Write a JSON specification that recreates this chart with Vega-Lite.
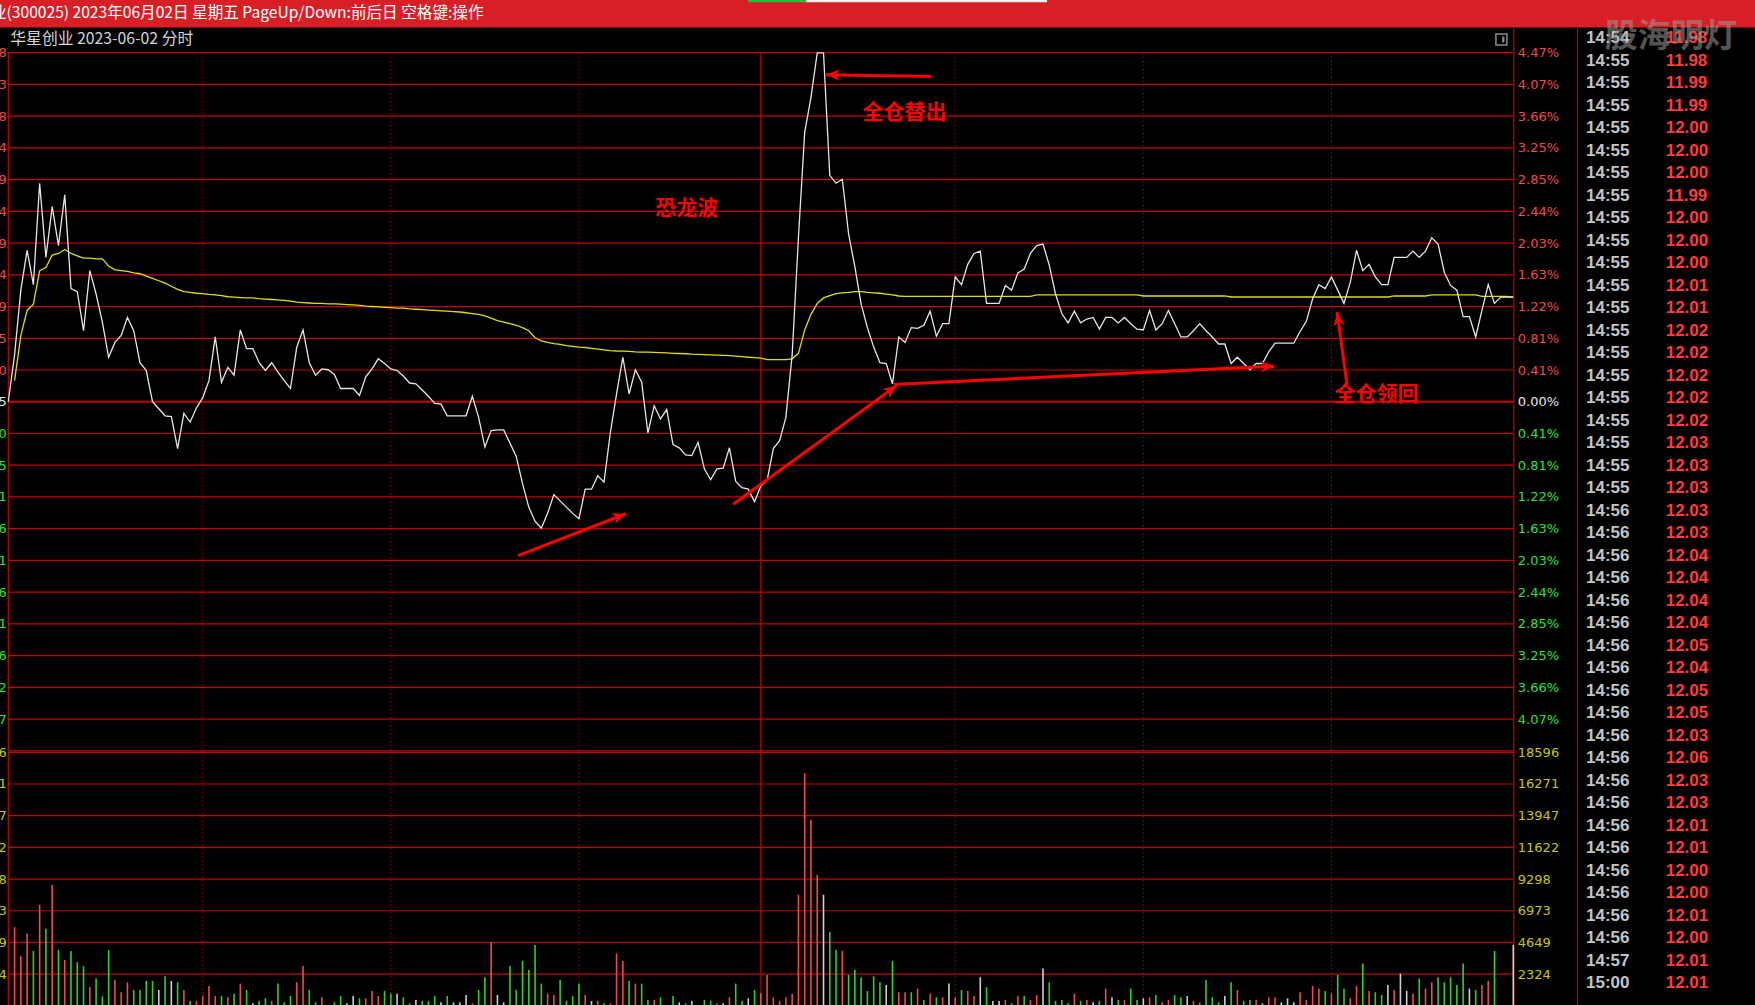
{
  "$schema": "https://vega.github.io/schema/vega-lite/v6.json",
  "width": 1755,
  "height": 1005,
  "autosize": {"type": "none"},
  "padding": 0,
  "background": "#000000",
  "config": {
    "view": {"stroke": null},
    "axis": {"grid": false, "ticks": false, "domain": false, "labelOverlap": false, "labelFont": "DejaVu Sans", "labelFontSize": 13}
  },
  "datasets": {
    "minutes": [
      {"k":0,"pct":0,"avg":null,"vol":0,"dir":"flat"},
      {"k":1,"pct":0.60,"avg":0.27,"vol":5767,"dir":"up"},
      {"k":2,"pct":1.43,"avg":0.85,"vol":3660,"dir":"up"},
      {"k":3,"pct":1.94,"avg":1.17,"vol":5301,"dir":"up"},
      {"k":4,"pct":1.50,"avg":1.25,"vol":4028,"dir":"down"},
      {"k":5,"pct":2.80,"avg":1.68,"vol":7409,"dir":"up"},
      {"k":6,"pct":1.85,"avg":1.72,"vol":5645,"dir":"down"},
      {"k":7,"pct":2.50,"avg":1.88,"vol":8879,"dir":"up"},
      {"k":8,"pct":2.00,"avg":1.90,"vol":4101,"dir":"down"},
      {"k":9,"pct":2.65,"avg":1.95,"vol":3366,"dir":"up"},
      {"k":10,"pct":1.45,"avg":1.90,"vol":4028,"dir":"down"},
      {"k":11,"pct":1.41,"avg":1.87,"vol":3194,"dir":"down"},
      {"k":12,"pct":0.91,"avg":1.84,"vol":2900,"dir":"down"},
      {"k":13,"pct":1.68,"avg":1.84,"vol":1357,"dir":"up"},
      {"k":14,"pct":1.38,"avg":1.83,"vol":1994,"dir":"down"},
      {"k":15,"pct":1.02,"avg":1.83,"vol":695,"dir":"down"},
      {"k":16,"pct":0.57,"avg":1.74,"vol":4101,"dir":"down"},
      {"k":17,"pct":0.76,"avg":1.69,"vol":1896,"dir":"up"},
      {"k":18,"pct":0.85,"avg":1.68,"vol":990,"dir":"up"},
      {"k":19,"pct":1.08,"avg":1.67,"vol":1725,"dir":"up"},
      {"k":20,"pct":0.91,"avg":1.65,"vol":1161,"dir":"down"},
      {"k":21,"pct":0.50,"avg":1.64,"vol":1161,"dir":"down"},
      {"k":22,"pct":0.40,"avg":1.61,"vol":1823,"dir":"down"},
      {"k":23,"pct":0.00,"avg":1.58,"vol":1823,"dir":"down"},
      {"k":24,"pct":-0.09,"avg":1.55,"vol":1161,"dir":"flat"},
      {"k":25,"pct":-0.18,"avg":1.52,"vol":2166,"dir":"down"},
      {"k":26,"pct":-0.19,"avg":1.48,"vol":1823,"dir":"flat"},
      {"k":27,"pct":-0.60,"avg":1.44,"vol":1725,"dir":"down"},
      {"k":28,"pct":-0.15,"avg":1.41,"vol":1161,"dir":"up"},
      {"k":29,"pct":-0.26,"avg":1.40,"vol":353,"dir":"down"},
      {"k":30,"pct":-0.08,"avg":1.39,"vol":353,"dir":"up"},
      {"k":31,"pct":0.05,"avg":1.385,"vol":720,"dir":"up"},
      {"k":32,"pct":0.27,"avg":1.375,"vol":1455,"dir":"up"},
      {"k":33,"pct":0.83,"avg":1.37,"vol":720,"dir":"up"},
      {"k":34,"pct":0.25,"avg":1.36,"vol":720,"dir":"down"},
      {"k":35,"pct":0.44,"avg":1.345,"vol":622,"dir":"up"},
      {"k":36,"pct":0.34,"avg":1.34,"vol":892,"dir":"down"},
      {"k":37,"pct":0.92,"avg":1.335,"vol":1627,"dir":"up"},
      {"k":38,"pct":0.68,"avg":1.33,"vol":1161,"dir":"down"},
      {"k":39,"pct":0.68,"avg":1.33,"vol":181,"dir":"flat"},
      {"k":40,"pct":0.50,"avg":1.32,"vol":353,"dir":"down"},
      {"k":41,"pct":0.40,"avg":1.315,"vol":549,"dir":"down"},
      {"k":42,"pct":0.50,"avg":1.31,"vol":353,"dir":"up"},
      {"k":43,"pct":0.38,"avg":1.305,"vol":1627,"dir":"down"},
      {"k":44,"pct":0.27,"avg":1.30,"vol":255,"dir":"down"},
      {"k":45,"pct":0.17,"avg":1.29,"vol":720,"dir":"down"},
      {"k":46,"pct":0.70,"avg":1.275,"vol":1725,"dir":"up"},
      {"k":47,"pct":0.92,"avg":1.27,"vol":2925,"dir":"up"},
      {"k":48,"pct":0.50,"avg":1.265,"vol":1161,"dir":"down"},
      {"k":49,"pct":0.34,"avg":1.26,"vol":255,"dir":"down"},
      {"k":50,"pct":0.42,"avg":1.26,"vol":622,"dir":"up"},
      {"k":51,"pct":0.41,"avg":1.255,"vol":60,"dir":"flat"},
      {"k":52,"pct":0.35,"avg":1.255,"vol":255,"dir":"down"},
      {"k":53,"pct":0.17,"avg":1.25,"vol":720,"dir":"down"},
      {"k":54,"pct":0.17,"avg":1.245,"vol":181,"dir":"flat"},
      {"k":55,"pct":0.17,"avg":1.24,"vol":720,"dir":"flat"},
      {"k":56,"pct":0.08,"avg":1.235,"vol":549,"dir":"down"},
      {"k":57,"pct":0.32,"avg":1.225,"vol":549,"dir":"up"},
      {"k":58,"pct":0.42,"avg":1.22,"vol":1088,"dir":"up"},
      {"k":59,"pct":0.55,"avg":1.215,"vol":720,"dir":"up"},
      {"k":60,"pct":0.49,"avg":1.21,"vol":1088,"dir":"down"},
      {"k":61,"pct":0.42,"avg":1.205,"vol":892,"dir":"down"},
      {"k":62,"pct":0.40,"avg":1.20,"vol":892,"dir":"flat"},
      {"k":63,"pct":0.33,"avg":1.20,"vol":622,"dir":"down"},
      {"k":64,"pct":0.24,"avg":1.19,"vol":181,"dir":"down"},
      {"k":65,"pct":0.23,"avg":1.185,"vol":426,"dir":"flat"},
      {"k":66,"pct":0.15,"avg":1.18,"vol":353,"dir":"down"},
      {"k":67,"pct":0.07,"avg":1.175,"vol":353,"dir":"down"},
      {"k":68,"pct":-0.02,"avg":1.17,"vol":720,"dir":"down"},
      {"k":69,"pct":-0.03,"avg":1.165,"vol":255,"dir":"flat"},
      {"k":70,"pct":-0.18,"avg":1.16,"vol":720,"dir":"down"},
      {"k":71,"pct":-0.18,"avg":1.155,"vol":255,"dir":"flat"},
      {"k":72,"pct":-0.18,"avg":1.15,"vol":255,"dir":"flat"},
      {"k":73,"pct":-0.18,"avg":1.14,"vol":794,"dir":"flat"},
      {"k":74,"pct":0.07,"avg":1.13,"vol":181,"dir":"up"},
      {"k":75,"pct":-0.20,"avg":1.12,"vol":1161,"dir":"down"},
      {"k":76,"pct":-0.58,"avg":1.10,"vol":2092,"dir":"down"},
      {"k":77,"pct":-0.37,"avg":1.07,"vol":4665,"dir":"up"},
      {"k":78,"pct":-0.36,"avg":1.04,"vol":794,"dir":"flat"},
      {"k":79,"pct":-0.36,"avg":1.02,"vol":255,"dir":"flat"},
      {"k":80,"pct":-0.53,"avg":1.00,"vol":2925,"dir":"down"},
      {"k":81,"pct":-0.70,"avg":0.98,"vol":1161,"dir":"down"},
      {"k":82,"pct":-1.05,"avg":0.95,"vol":3292,"dir":"down"},
      {"k":83,"pct":-1.35,"avg":0.91,"vol":2631,"dir":"down"},
      {"k":84,"pct":-1.53,"avg":0.82,"vol":4469,"dir":"down"},
      {"k":85,"pct":-1.62,"avg":0.78,"vol":1627,"dir":"down"},
      {"k":86,"pct":-1.43,"avg":0.76,"vol":892,"dir":"up"},
      {"k":87,"pct":-1.19,"avg":0.745,"vol":794,"dir":"up"},
      {"k":88,"pct":-1.27,"avg":0.735,"vol":1896,"dir":"down"},
      {"k":89,"pct":-1.35,"avg":0.72,"vol":353,"dir":"down"},
      {"k":90,"pct":-1.43,"avg":0.71,"vol":720,"dir":"down"},
      {"k":91,"pct":-1.50,"avg":0.70,"vol":1627,"dir":"down"},
      {"k":92,"pct":-1.12,"avg":0.695,"vol":794,"dir":"up"},
      {"k":93,"pct":-1.12,"avg":0.685,"vol":353,"dir":"flat"},
      {"k":94,"pct":-0.95,"avg":0.675,"vol":353,"dir":"up"},
      {"k":95,"pct":-1.03,"avg":0.665,"vol":181,"dir":"down"},
      {"k":96,"pct":-0.40,"avg":0.655,"vol":181,"dir":"up"},
      {"k":97,"pct":0.10,"avg":0.65,"vol":3832,"dir":"up"},
      {"k":98,"pct":0.57,"avg":0.648,"vol":3292,"dir":"up"},
      {"k":99,"pct":0.10,"avg":0.645,"vol":1823,"dir":"down"},
      {"k":100,"pct":0.41,"avg":0.64,"vol":1627,"dir":"up"},
      {"k":101,"pct":0.25,"avg":0.637,"vol":1627,"dir":"down"},
      {"k":102,"pct":-0.40,"avg":0.635,"vol":426,"dir":"down"},
      {"k":103,"pct":-0.05,"avg":0.632,"vol":426,"dir":"up"},
      {"k":104,"pct":-0.22,"avg":0.63,"vol":622,"dir":"down"},
      {"k":105,"pct":-0.10,"avg":0.625,"vol":60,"dir":"flat"},
      {"k":106,"pct":-0.55,"avg":0.62,"vol":720,"dir":"down"},
      {"k":107,"pct":-0.59,"avg":0.618,"vol":255,"dir":"flat"},
      {"k":108,"pct":-0.68,"avg":0.615,"vol":181,"dir":"down"},
      {"k":109,"pct":-0.69,"avg":0.61,"vol":353,"dir":"flat"},
      {"k":110,"pct":-0.52,"avg":0.607,"vol":60,"dir":"flat"},
      {"k":111,"pct":-0.86,"avg":0.603,"vol":426,"dir":"down"},
      {"k":112,"pct":-1.00,"avg":0.60,"vol":353,"dir":"down"},
      {"k":113,"pct":-0.86,"avg":0.597,"vol":181,"dir":"up"},
      {"k":114,"pct":-0.85,"avg":0.594,"vol":181,"dir":"flat"},
      {"k":115,"pct":-0.59,"avg":0.59,"vol":622,"dir":"up"},
      {"k":116,"pct":-1.02,"avg":0.585,"vol":1627,"dir":"down"},
      {"k":117,"pct":-1.10,"avg":0.578,"vol":353,"dir":"down"},
      {"k":118,"pct":-1.12,"avg":0.57,"vol":549,"dir":"flat"},
      {"k":119,"pct":-1.28,"avg":0.565,"vol":1161,"dir":"down"},
      {"k":120,"pct":-1.08,"avg":0.56,"vol":916,"dir":"up"},
      {"k":121,"pct":-1.01,"avg":0.54,"vol":2264,"dir":"up"},
      {"k":122,"pct":-0.60,"avg":0.54,"vol":622,"dir":"up"},
      {"k":123,"pct":-0.50,"avg":0.54,"vol":353,"dir":"up"},
      {"k":124,"pct":-0.20,"avg":0.54,"vol":622,"dir":"up"},
      {"k":125,"pct":0.60,"avg":0.55,"vol":892,"dir":"up"},
      {"k":126,"pct":2.10,"avg":0.62,"vol":8144,"dir":"up"},
      {"k":127,"pct":3.45,"avg":0.92,"vol":17062,"dir":"up"},
      {"k":128,"pct":3.90,"avg":1.12,"vol":13656,"dir":"up"},
      {"k":129,"pct":4.47,"avg":1.26,"vol":9614,"dir":"up"},
      {"k":130,"pct":4.47,"avg":1.33,"vol":8144,"dir":"flat"},
      {"k":131,"pct":2.90,"avg":1.36,"vol":5400,"dir":"down"},
      {"k":132,"pct":2.80,"avg":1.385,"vol":4101,"dir":"down"},
      {"k":133,"pct":2.85,"avg":1.395,"vol":4028,"dir":"up"},
      {"k":134,"pct":2.15,"avg":1.40,"vol":2264,"dir":"down"},
      {"k":135,"pct":1.73,"avg":1.41,"vol":2631,"dir":"down"},
      {"k":136,"pct":1.25,"avg":1.41,"vol":2092,"dir":"down"},
      {"k":137,"pct":0.95,"avg":1.40,"vol":1088,"dir":"down"},
      {"k":138,"pct":0.70,"avg":1.395,"vol":2166,"dir":"down"},
      {"k":139,"pct":0.50,"avg":1.39,"vol":1725,"dir":"down"},
      {"k":140,"pct":0.49,"avg":1.38,"vol":1529,"dir":"flat"},
      {"k":141,"pct":0.23,"avg":1.37,"vol":3292,"dir":"down"},
      {"k":142,"pct":0.83,"avg":1.355,"vol":990,"dir":"up"},
      {"k":143,"pct":0.76,"avg":1.35,"vol":990,"dir":"up"},
      {"k":144,"pct":0.95,"avg":1.35,"vol":990,"dir":"down"},
      {"k":145,"pct":0.94,"avg":1.35,"vol":1259,"dir":"up"},
      {"k":146,"pct":0.98,"avg":1.35,"vol":426,"dir":"down"},
      {"k":147,"pct":1.16,"avg":1.35,"vol":892,"dir":"up"},
      {"k":148,"pct":0.84,"avg":1.35,"vol":622,"dir":"down"},
      {"k":149,"pct":1.00,"avg":1.35,"vol":622,"dir":"up"},
      {"k":150,"pct":1.00,"avg":1.35,"vol":1627,"dir":"flat"},
      {"k":151,"pct":1.60,"avg":1.35,"vol":622,"dir":"up"},
      {"k":152,"pct":1.50,"avg":1.35,"vol":1161,"dir":"down"},
      {"k":153,"pct":1.76,"avg":1.35,"vol":1088,"dir":"up"},
      {"k":154,"pct":1.90,"avg":1.35,"vol":720,"dir":"up"},
      {"k":155,"pct":1.93,"avg":1.35,"vol":2092,"dir":"flat"},
      {"k":156,"pct":1.26,"avg":1.35,"vol":1357,"dir":"down"},
      {"k":157,"pct":1.26,"avg":1.35,"vol":353,"dir":"flat"},
      {"k":158,"pct":1.26,"avg":1.35,"vol":353,"dir":"flat"},
      {"k":159,"pct":1.49,"avg":1.35,"vol":426,"dir":"up"},
      {"k":160,"pct":1.43,"avg":1.35,"vol":181,"dir":"down"},
      {"k":161,"pct":1.65,"avg":1.35,"vol":720,"dir":"up"},
      {"k":162,"pct":1.70,"avg":1.35,"vol":720,"dir":"down"},
      {"k":163,"pct":1.90,"avg":1.35,"vol":426,"dir":"up"},
      {"k":164,"pct":2.00,"avg":1.37,"vol":794,"dir":"up"},
      {"k":165,"pct":2.02,"avg":1.37,"vol":2729,"dir":"flat"},
      {"k":166,"pct":1.75,"avg":1.37,"vol":1725,"dir":"down"},
      {"k":167,"pct":1.38,"avg":1.37,"vol":353,"dir":"down"},
      {"k":168,"pct":1.13,"avg":1.37,"vol":426,"dir":"down"},
      {"k":169,"pct":1.01,"avg":1.37,"vol":181,"dir":"down"},
      {"k":170,"pct":1.16,"avg":1.37,"vol":892,"dir":"up"},
      {"k":171,"pct":1.01,"avg":1.37,"vol":353,"dir":"down"},
      {"k":172,"pct":1.06,"avg":1.37,"vol":426,"dir":"up"},
      {"k":173,"pct":1.08,"avg":1.37,"vol":255,"dir":"flat"},
      {"k":174,"pct":0.93,"avg":1.37,"vol":353,"dir":"down"},
      {"k":175,"pct":1.08,"avg":1.37,"vol":1259,"dir":"up"},
      {"k":176,"pct":1.08,"avg":1.37,"vol":622,"dir":"flat"},
      {"k":177,"pct":1.01,"avg":1.37,"vol":426,"dir":"down"},
      {"k":178,"pct":1.08,"avg":1.37,"vol":426,"dir":"up"},
      {"k":179,"pct":1.00,"avg":1.37,"vol":1259,"dir":"down"},
      {"k":180,"pct":0.93,"avg":1.37,"vol":426,"dir":"down"},
      {"k":181,"pct":0.92,"avg":1.355,"vol":549,"dir":"flat"},
      {"k":182,"pct":1.17,"avg":1.355,"vol":622,"dir":"up"},
      {"k":183,"pct":0.92,"avg":1.355,"vol":794,"dir":"down"},
      {"k":184,"pct":1.00,"avg":1.355,"vol":255,"dir":"up"},
      {"k":185,"pct":1.17,"avg":1.355,"vol":426,"dir":"up"},
      {"k":186,"pct":1.00,"avg":1.355,"vol":794,"dir":"down"},
      {"k":187,"pct":0.83,"avg":1.355,"vol":622,"dir":"down"},
      {"k":188,"pct":0.83,"avg":1.355,"vol":720,"dir":"flat"},
      {"k":189,"pct":0.91,"avg":1.355,"vol":353,"dir":"up"},
      {"k":190,"pct":1.00,"avg":1.355,"vol":255,"dir":"up"},
      {"k":191,"pct":0.91,"avg":1.355,"vol":1896,"dir":"down"},
      {"k":192,"pct":0.83,"avg":1.355,"vol":622,"dir":"down"},
      {"k":193,"pct":0.74,"avg":1.355,"vol":255,"dir":"down"},
      {"k":194,"pct":0.74,"avg":1.355,"vol":720,"dir":"flat"},
      {"k":195,"pct":0.49,"avg":1.342,"vol":1725,"dir":"down"},
      {"k":196,"pct":0.57,"avg":1.342,"vol":1161,"dir":"up"},
      {"k":197,"pct":0.49,"avg":1.342,"vol":353,"dir":"down"},
      {"k":198,"pct":0.41,"avg":1.342,"vol":426,"dir":"down"},
      {"k":199,"pct":0.49,"avg":1.342,"vol":426,"dir":"up"},
      {"k":200,"pct":0.49,"avg":1.342,"vol":181,"dir":"flat"},
      {"k":201,"pct":0.64,"avg":1.342,"vol":622,"dir":"up"},
      {"k":202,"pct":0.75,"avg":1.342,"vol":622,"dir":"up"},
      {"k":203,"pct":0.75,"avg":1.342,"vol":255,"dir":"flat"},
      {"k":204,"pct":0.75,"avg":1.342,"vol":549,"dir":"flat"},
      {"k":205,"pct":0.75,"avg":1.342,"vol":255,"dir":"flat"},
      {"k":206,"pct":0.90,"avg":1.342,"vol":990,"dir":"up"},
      {"k":207,"pct":1.03,"avg":1.342,"vol":426,"dir":"up"},
      {"k":208,"pct":1.32,"avg":1.342,"vol":1455,"dir":"up"},
      {"k":209,"pct":1.50,"avg":1.342,"vol":1259,"dir":"up"},
      {"k":210,"pct":1.45,"avg":1.342,"vol":1088,"dir":"down"},
      {"k":211,"pct":1.60,"avg":1.342,"vol":892,"dir":"up"},
      {"k":212,"pct":1.43,"avg":1.342,"vol":2264,"dir":"down"},
      {"k":213,"pct":1.26,"avg":1.342,"vol":1259,"dir":"down"},
      {"k":214,"pct":1.53,"avg":1.342,"vol":549,"dir":"up"},
      {"k":215,"pct":1.94,"avg":1.342,"vol":1455,"dir":"up"},
      {"k":216,"pct":1.68,"avg":1.342,"vol":3096,"dir":"down"},
      {"k":217,"pct":1.76,"avg":1.342,"vol":1088,"dir":"up"},
      {"k":218,"pct":1.60,"avg":1.342,"vol":990,"dir":"down"},
      {"k":219,"pct":1.50,"avg":1.342,"vol":794,"dir":"down"},
      {"k":220,"pct":1.50,"avg":1.342,"vol":1529,"dir":"flat"},
      {"k":221,"pct":1.85,"avg":1.355,"vol":1161,"dir":"up"},
      {"k":222,"pct":1.85,"avg":1.355,"vol":2362,"dir":"flat"},
      {"k":223,"pct":1.85,"avg":1.355,"vol":1088,"dir":"flat"},
      {"k":224,"pct":1.93,"avg":1.355,"vol":892,"dir":"up"},
      {"k":225,"pct":1.85,"avg":1.355,"vol":1994,"dir":"down"},
      {"k":226,"pct":1.93,"avg":1.355,"vol":1259,"dir":"up"},
      {"k":227,"pct":2.10,"avg":1.368,"vol":1725,"dir":"up"},
      {"k":228,"pct":2.02,"avg":1.368,"vol":2092,"dir":"down"},
      {"k":229,"pct":1.66,"avg":1.368,"vol":1725,"dir":"down"},
      {"k":230,"pct":1.49,"avg":1.368,"vol":2092,"dir":"down"},
      {"k":231,"pct":1.43,"avg":1.368,"vol":1529,"dir":"down"},
      {"k":232,"pct":1.09,"avg":1.368,"vol":3096,"dir":"down"},
      {"k":233,"pct":1.09,"avg":1.368,"vol":1259,"dir":"flat"},
      {"k":234,"pct":0.83,"avg":1.368,"vol":1161,"dir":"down"},
      {"k":235,"pct":1.17,"avg":1.35,"vol":1529,"dir":"up"},
      {"k":236,"pct":1.50,"avg":1.35,"vol":1823,"dir":"up"},
      {"k":237,"pct":1.26,"avg":1.35,"vol":4028,"dir":"down"},
      {"k":238,"pct":1.34,"avg":1.35,"vol":0,"dir":"flat"},
      {"k":239,"pct":1.34,"avg":1.35,"vol":0,"dir":"flat"},
      {"k":240,"pct":1.34,"avg":1.34,"vol":4469,"dir":"flat"}
    ],
    "pctTicks": [
      {"t":-4.47161},{"t":-4.0651},{"t":-3.65859},{"t":-3.25208},{"t":-2.84557},{"t":-2.43906},{"t":-2.03255},{"t":-1.62604},{"t":-1.21953},{"t":-0.81302},{"t":-0.40651},{"t":0},
      {"t":0.40651},{"t":0.81302},{"t":1.21953},{"t":1.62604},{"t":2.03255},{"t":2.43906},{"t":2.84557},{"t":3.25208},{"t":3.65859},{"t":4.0651},{"t":4.47161}
    ],
    "volTicks": [
      {"t":2324.5},{"t":4649},{"t":6973.5},{"t":9298},{"t":11622.5},{"t":13947},{"t":16271.5},{"t":18596}
    ],
    "dotted": [{"k":31},{"k":61},{"k":91},{"k":151},{"k":181},{"k":211}],
    "noon": [{"k":120}],
    "arrows": [
      {"id":"a","end":"tail","k":147.2,"pct":4.167},
      {"id":"a","end":"tip","k":130.4,"pct":4.189},
      {"id":"b","end":"tail","k":81.3,"pct":-1.972},
      {"id":"b","end":"tip","k":98.5,"pct":-1.435},
      {"id":"c","end":"tail","k":115.6,"pct":-1.312},
      {"id":"c","end":"tip","k":141.7,"pct":0.209},
      {"id":"d","end":"tail","k":141.2,"pct":0.222},
      {"id":"d","end":"tip","k":201.9,"pct":0.456},
      {"id":"e","end":"tail","k":213.5,"pct":0.209},
      {"id":"e","end":"tip","k":211.9,"pct":1.148}
    ],
    "notes": [
      {"label":"全仓替出","k":142.9,"pct":3.693},
      {"label":"恐龙波","k":108.2,"pct":2.473},
      {"label":"全仓领回","k":218.2,"pct":0.081}
    ],
    "tape": [
      {"i":0,"time":"14:54","price":11.98},
      {"i":1,"time":"14:55","price":11.98},
      {"i":2,"time":"14:55","price":11.99},
      {"i":3,"time":"14:55","price":11.99},
      {"i":4,"time":"14:55","price":12.00},
      {"i":5,"time":"14:55","price":12.00},
      {"i":6,"time":"14:55","price":12.00},
      {"i":7,"time":"14:55","price":11.99},
      {"i":8,"time":"14:55","price":12.00},
      {"i":9,"time":"14:55","price":12.00},
      {"i":10,"time":"14:55","price":12.00},
      {"i":11,"time":"14:55","price":12.01},
      {"i":12,"time":"14:55","price":12.01},
      {"i":13,"time":"14:55","price":12.02},
      {"i":14,"time":"14:55","price":12.02},
      {"i":15,"time":"14:55","price":12.02},
      {"i":16,"time":"14:55","price":12.02},
      {"i":17,"time":"14:55","price":12.02},
      {"i":18,"time":"14:55","price":12.03},
      {"i":19,"time":"14:55","price":12.03},
      {"i":20,"time":"14:55","price":12.03},
      {"i":21,"time":"14:56","price":12.03},
      {"i":22,"time":"14:56","price":12.03},
      {"i":23,"time":"14:56","price":12.04},
      {"i":24,"time":"14:56","price":12.04},
      {"i":25,"time":"14:56","price":12.04},
      {"i":26,"time":"14:56","price":12.04},
      {"i":27,"time":"14:56","price":12.05},
      {"i":28,"time":"14:56","price":12.04},
      {"i":29,"time":"14:56","price":12.05},
      {"i":30,"time":"14:56","price":12.05},
      {"i":31,"time":"14:56","price":12.03},
      {"i":32,"time":"14:56","price":12.06},
      {"i":33,"time":"14:56","price":12.03},
      {"i":34,"time":"14:56","price":12.03},
      {"i":35,"time":"14:56","price":12.01},
      {"i":36,"time":"14:56","price":12.01},
      {"i":37,"time":"14:56","price":12.00},
      {"i":38,"time":"14:56","price":12.00},
      {"i":39,"time":"14:56","price":12.01},
      {"i":40,"time":"14:56","price":12.00},
      {"i":41,"time":"14:57","price":12.01},
      {"i":42,"time":"15:00","price":12.01}
    ]
  },
  "layer": [
    {
      "data": {"values": [{"title": "业(300025) 2023年06月02日 星期五 PageUp/Down:前后日 空格键:操作"}]},
      "layer": [
        {
          "mark": {"type": "rect", "color": "#d91f26"},
          "encoding": {
            "x": {"datum": 0, "type": "quantitative", "scale": {"domain": [0, 1], "range": [0, 1755], "nice": false, "zero": false}, "axis": null},
            "x2": {"datum": 1},
            "y": {"datum": 0, "type": "quantitative", "scale": {"domain": [0, 1], "range": [0, 27.5], "nice": false, "zero": false}, "axis": null},
            "y2": {"datum": 1}
          }
        },
        {
          "mark": {"type": "rect", "color": "#1fc03a"},
          "encoding": {
            "x": {"datum": 0.4262, "type": "quantitative", "axis": null},
            "x2": {"datum": 0.4593},
            "y": {"datum": 0, "type": "quantitative", "axis": null},
            "y2": {"datum": 0.08}
          }
        },
        {
          "mark": {"type": "rect", "color": "#f2f2f2"},
          "encoding": {
            "x": {"datum": 0.4593, "type": "quantitative", "axis": null},
            "x2": {"datum": 0.5966},
            "y": {"datum": 0, "type": "quantitative", "axis": null},
            "y2": {"datum": 0.08}
          }
        },
        {
          "mark": {"type": "text", "align": "left", "baseline": "middle", "dx": -9, "font": "Noto Sans CJK SC", "fontSize": 15.6, "color": "#ffffff"},
          "encoding": {
            "x": {"datum": 0, "type": "quantitative", "axis": null},
            "y": {"datum": 0.46, "type": "quantitative", "axis": null},
            "text": {"field": "title"}
          }
        }
      ]
    },
    {
      "layer": [
        {
          "data": {"name": "pctTicks"},
          "mark": {"type": "rule", "color": "#c80000"},
          "encoding": {
            "x": {"datum": 0, "type": "quantitative", "scale": {"domain": [0, 240], "range": [8.3, 1513.3], "nice": false, "zero": false}, "axis": null},
            "x2": {"datum": 240},
            "y": {
              "field": "t", "type": "quantitative",
              "scale": {"domain": [-4.47161, 4.47161], "range": [750.8, 52.7], "nice": false, "zero": false},
              "axis": {
                "orient": "right", "offset": -241.7, "title": null, "labelPadding": 4,
                "values": [-4.0651,-3.65859,-3.25208,-2.84557,-2.43906,-2.03255,-1.62604,-1.21953,-0.81302,-0.40651,0,0.40651,0.81302,1.21953,1.62604,2.03255,2.43906,2.84557,3.25208,3.65859,4.0651,4.47161],
                "labelExpr": "format(abs(datum.value), '.2f') + '%'",
                "labelColor": {"condition": [{"test": "datum.value > 0.001", "value": "#f04a4a"}, {"test": "datum.value < -0.001", "value": "#30e030"}], "value": "#e8e8e8"}
              }
            },
            "strokeWidth": {"condition": {"test": "datum.t == 0", "value": 2}, "value": 1.2}
          }
        },
        {
          "data": {"values": [{"edge": "left"}]},
          "mark": {"type": "rule", "color": "#c80000", "strokeWidth": 1.2},
          "encoding": {
            "x": {"datum": 0, "type": "quantitative", "axis": null},
            "y": {
              "datum": 4.47161, "type": "quantitative",
              "axis": {
                "orient": "left", "offset": -8.3, "title": null, "labelPadding": 2,
                "values": [-4.0651,-3.65859,-3.25208,-2.84557,-2.43906,-2.03255,-1.62604,-1.21953,-0.81302,-0.40651,0,0.40651,0.81302,1.21953,1.62604,2.03255,2.43906,2.84557,3.25208,3.65859,4.0651,4.47161],
                "labelExpr": "format(11.85 * (1 + datum.value / 100), '.2f')",
                "labelColor": {"condition": [{"test": "datum.value > 0.001", "value": "#f04a4a"}, {"test": "datum.value < -0.001", "value": "#30e030"}], "value": "#e8e8e8"}
              }
            },
            "y2": {"datum": -4.47161}
          }
        },
        {
          "data": {"name": "dotted"},
          "mark": {"type": "rule", "color": "#b00000", "strokeWidth": 1, "strokeDash": [1.5, 2.5]},
          "encoding": {
            "x": {"field": "k", "type": "quantitative", "axis": null},
            "y": {"datum": 4.47161, "type": "quantitative", "axis": null},
            "y2": {"datum": -4.47161}
          }
        },
        {
          "data": {"name": "noon"},
          "mark": {"type": "rule", "color": "#960000", "strokeWidth": 1.5},
          "encoding": {
            "x": {"field": "k", "type": "quantitative", "axis": null},
            "y": {"datum": 4.47161, "type": "quantitative", "axis": null},
            "y2": {"datum": -4.47161}
          }
        },
        {
          "data": {"name": "minutes"},
          "mark": {"type": "line", "color": "#e0e000", "strokeWidth": 1.3},
          "encoding": {
            "x": {"field": "k", "type": "quantitative", "axis": null},
            "y": {"field": "avg", "type": "quantitative", "axis": null}
          }
        },
        {
          "data": {"name": "minutes"},
          "mark": {"type": "line", "color": "#e6e6e6", "strokeWidth": 1.3},
          "encoding": {
            "x": {"field": "k", "type": "quantitative", "axis": null},
            "y": {"field": "pct", "type": "quantitative", "axis": null}
          }
        },
        {
          "data": {"name": "arrows"},
          "mark": {"type": "line", "color": "#ff0000", "strokeWidth": 3, "strokeCap": "butt"},
          "encoding": {
            "x": {"field": "k", "type": "quantitative", "axis": null},
            "y": {"field": "pct", "type": "quantitative", "axis": null},
            "detail": {"field": "id"}
          }
        },
        {
          "data": {"name": "arrows"},
          "transform": [{"filter": "datum.id == 'a' && datum.end == 'tip'"}],
          "mark": {"type": "point", "shape": "M0,0L-2.2,-0.9L-1.5,0L-2.2,0.9Z", "size": 160, "angle": 181, "filled": true, "color": "#ff0000", "opacity": 1},
          "encoding": {"x": {"field": "k", "type": "quantitative", "axis": null}, "y": {"field": "pct", "type": "quantitative", "axis": null}}
        },
        {
          "data": {"name": "arrows"},
          "transform": [{"filter": "datum.id == 'b' && datum.end == 'tip'"}],
          "mark": {"type": "point", "shape": "M0,0L-2.2,-0.9L-1.5,0L-2.2,0.9Z", "size": 160, "angle": 339, "filled": true, "color": "#ff0000", "opacity": 1},
          "encoding": {"x": {"field": "k", "type": "quantitative", "axis": null}, "y": {"field": "pct", "type": "quantitative", "axis": null}}
        },
        {
          "data": {"name": "arrows"},
          "transform": [{"filter": "datum.id == 'c' && datum.end == 'tip'"}],
          "mark": {"type": "point", "shape": "M0,0L-2.2,-0.9L-1.5,0L-2.2,0.9Z", "size": 160, "angle": 324, "filled": true, "color": "#ff0000", "opacity": 1},
          "encoding": {"x": {"field": "k", "type": "quantitative", "axis": null}, "y": {"field": "pct", "type": "quantitative", "axis": null}}
        },
        {
          "data": {"name": "arrows"},
          "transform": [{"filter": "datum.id == 'd' && datum.end == 'tip'"}],
          "mark": {"type": "point", "shape": "M0,0L-2.2,-0.9L-1.5,0L-2.2,0.9Z", "size": 160, "angle": 357, "filled": true, "color": "#ff0000", "opacity": 1},
          "encoding": {"x": {"field": "k", "type": "quantitative", "axis": null}, "y": {"field": "pct", "type": "quantitative", "axis": null}}
        },
        {
          "data": {"name": "arrows"},
          "transform": [{"filter": "datum.id == 'e' && datum.end == 'tip'"}],
          "mark": {"type": "point", "shape": "M0,0L-2.2,-0.9L-1.5,0L-2.2,0.9Z", "size": 160, "angle": 262, "filled": true, "color": "#ff0000", "opacity": 1},
          "encoding": {"x": {"field": "k", "type": "quantitative", "axis": null}, "y": {"field": "pct", "type": "quantitative", "axis": null}}
        },
        {
          "data": {"name": "notes"},
          "mark": {"type": "text", "align": "center", "baseline": "middle", "font": "Noto Sans CJK SC", "fontSize": 21, "fontWeight": "bold", "color": "#ff0000"},
          "encoding": {
            "x": {"field": "k", "type": "quantitative", "axis": null},
            "y": {"field": "pct", "type": "quantitative", "axis": null},
            "text": {"field": "label"}
          }
        },
        {
          "data": {"values": [{"label": "华星创业  2023-06-02 分时"}]},
          "mark": {"type": "text", "align": "left", "baseline": "middle", "dx": 2, "font": "Noto Sans CJK SC", "fontSize": 15.8, "color": "#d4d4d4"},
          "encoding": {
            "x": {"datum": 0, "type": "quantitative", "axis": null},
            "y": {"datum": 4.641, "type": "quantitative", "axis": null},
            "text": {"field": "label"}
          }
        },
        {
          "data": {"values": [{"icon": "panel"}]},
          "mark": {"type": "point", "shape": "square", "size": 120, "filled": false, "stroke": "#8c8c8c", "strokeWidth": 1.5, "opacity": 1},
          "encoding": {
            "x": {"datum": 238.1, "type": "quantitative", "axis": null},
            "y": {"datum": 4.641, "type": "quantitative", "axis": null}
          }
        },
        {
          "data": {"values": [{"icon": "panel"}]},
          "mark": {"type": "point", "shape": "M0.15,-0.55L0.55,-0.55L0.55,0.55L0.15,0.55Z", "size": 120, "filled": true, "color": "#8c8c8c", "opacity": 1},
          "encoding": {
            "x": {"datum": 238.1, "type": "quantitative", "axis": null},
            "y": {"datum": 4.641, "type": "quantitative", "axis": null}
          }
        }
      ],
      "resolve": {"axis": {"y": "independent"}}
    },
    {
      "layer": [
        {
          "data": {"name": "volTicks"},
          "mark": {"type": "rule", "color": "#c80000", "strokeWidth": 1.2},
          "encoding": {
            "x": {"datum": 0, "type": "quantitative", "scale": {"domain": [0, 240], "range": [8.3, 1513.3], "nice": false, "zero": false}, "axis": null},
            "x2": {"datum": 240},
            "y": {
              "field": "t", "type": "quantitative",
              "scale": {"domain": [0, 18596], "range": [1005.8, 752.3], "nice": false, "zero": false},
              "axis": {
                "orient": "right", "offset": -241.7, "title": null, "labelPadding": 4,
                "values": [2324.5, 4649, 6973.5, 9298, 11622.5, 13947, 16271.5, 18596],
                "labelExpr": "format(floor(datum.value), 'd')",
                "labelColor": "#c8c800"
              }
            }
          }
        },
        {
          "data": {"values": [{"edge": "left"}]},
          "mark": {"type": "rule", "color": "#c80000", "strokeWidth": 1.2},
          "encoding": {
            "x": {"datum": 0, "type": "quantitative", "axis": null},
            "y": {
              "datum": 18596, "type": "quantitative",
              "axis": {
                "orient": "left", "offset": -8.3, "title": null, "labelPadding": 2,
                "values": [2324.5, 4649, 6973.5, 9298, 11622.5, 13947, 16271.5, 18596],
                "labelExpr": "format(floor(datum.value), 'd')",
                "labelColor": "#c8c800"
              }
            },
            "y2": {"datum": 0}
          }
        },
        {
          "data": {"name": "dotted"},
          "mark": {"type": "rule", "color": "#b00000", "strokeWidth": 1, "strokeDash": [1.5, 2.5]},
          "encoding": {
            "x": {"field": "k", "type": "quantitative", "axis": null},
            "y": {"datum": 18596, "type": "quantitative", "axis": null},
            "y2": {"datum": 0}
          }
        },
        {
          "data": {"name": "noon"},
          "mark": {"type": "rule", "color": "#960000", "strokeWidth": 1.5},
          "encoding": {
            "x": {"field": "k", "type": "quantitative", "axis": null},
            "y": {"datum": 18596, "type": "quantitative", "axis": null},
            "y2": {"datum": 0}
          }
        },
        {
          "data": {"name": "minutes"},
          "mark": {"type": "rule", "strokeWidth": 1.6},
          "encoding": {
            "x": {"field": "k", "type": "quantitative", "axis": null},
            "y": {"field": "vol", "type": "quantitative", "axis": null},
            "y2": {"datum": 0},
            "color": {"field": "dir", "type": "nominal", "scale": {"domain": ["up", "down", "flat"], "range": ["#f04b4b", "#2fd02f", "#d0d0d0"]}, "legend": null}
          }
        }
      ],
      "resolve": {"axis": {"y": "independent"}}
    },
    {
      "data": {"name": "tape"},
      "layer": [
        {
          "mark": {"type": "text", "align": "left", "baseline": "middle", "font": "Liberation Sans", "fontSize": 17, "fontWeight": "bold", "color": "#c4c4c4"},
          "encoding": {
            "x": {"datum": 0, "type": "quantitative", "scale": {"domain": [0, 1], "range": [1586, 1665.7], "nice": false, "zero": false}, "axis": null},
            "y": {
              "field": "i", "type": "quantitative",
              "scale": {"domain": [-0.4578, 42.9644], "range": [28, 1005], "nice": false, "zero": false},
              "axis": {"orient": "left", "offset": -1577, "title": null, "labels": false, "domain": true, "domainColor": "#c80000", "domainWidth": 1.2}
            },
            "text": {"field": "time"}
          }
        },
        {
          "mark": {"type": "text", "align": "left", "baseline": "middle", "font": "Liberation Sans", "fontSize": 17, "fontWeight": "bold", "color": "#ff3c3c"},
          "encoding": {
            "x": {"datum": 1, "type": "quantitative", "axis": null},
            "y": {
              "field": "i", "type": "quantitative",
              "axis": {"orient": "right", "offset": -241.7, "title": null, "labels": false, "domain": true, "domainColor": "#c80000", "domainWidth": 1.2}
            },
            "text": {"field": "price", "format": ".2f"}
          }
        },
        {
          "data": {"values": [{"wm": "股海明灯"}]},
          "mark": {"type": "text", "align": "center", "baseline": "middle", "dx": 5, "dy": -1, "font": "Noto Sans CJK SC", "fontSize": 33, "fontWeight": "bold", "color": "#9a9a9a", "opacity": 0.55},
          "encoding": {
            "x": {"datum": 1, "type": "quantitative", "axis": null},
            "y": {"datum": 0, "type": "quantitative", "axis": null},
            "text": {"field": "wm"}
          }
        }
      ],
      "resolve": {"axis": {"y": "independent"}}
    }
  ],
  "resolve": {"scale": {"x": "independent", "y": "independent"}}
}
